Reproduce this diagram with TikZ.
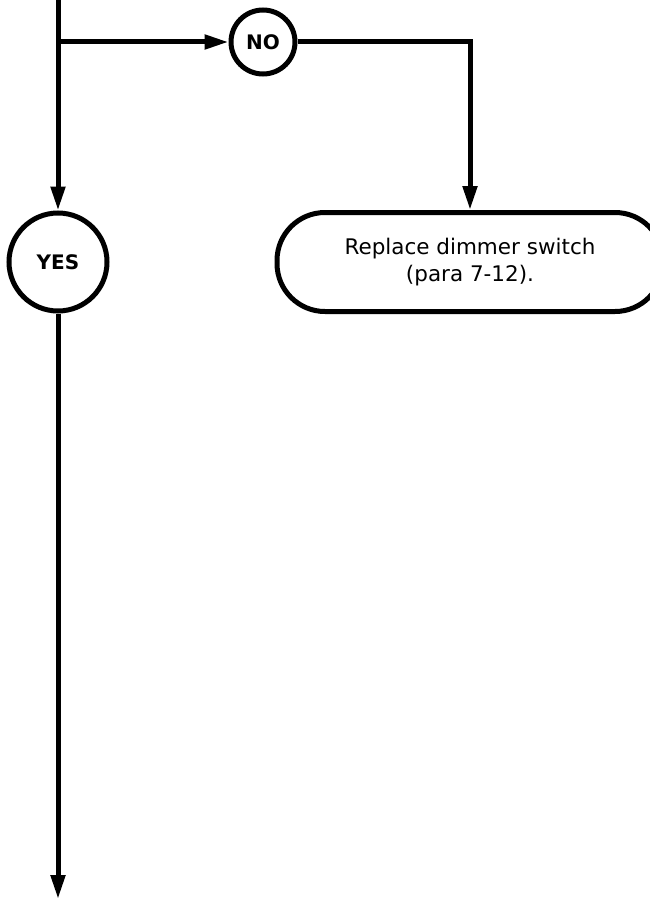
\documentclass[tikz,border=0pt]{standalone}
\usepackage{fontspec}
\setmainfont{DejaVu Sans}
\usetikzlibrary{positioning,arrows.meta}
\tikzset{
  dec/.style={circle, fill=white, draw=black, line width=5pt, inner sep=0pt, font=\bfseries\fontsize{20}{24}\selectfont},
  act/.style={rectangle, rounded corners=48pt, fill=white, draw=black, line width=5pt, align=center, minimum width=386pt, minimum height=99pt, font=\fontsize{21.5}{27}\selectfont},
  ln/.style={draw=black, line width=5pt},
  fl/.style={draw=black, line width=5pt, -{Triangle[length=24pt,width=14pt]}}
}
\begin{document}
\begin{tikzpicture}[x=1pt,y=-1pt]
  \useasboundingbox (0,0) rectangle (650,899);
  \coordinate (top) at (58,0);
  \coordinate (split) at (58,42);
  \coordinate (bend) at (470,42);
  \coordinate (bot) at (58,899);
  \node[dec, minimum size=64pt] (no) at (263,42) {NO};
  \node[dec, minimum size=98pt] (yes) at (58,262) {YES};
  \node[act] (fix) at (470,262) {Replace dimmer switch\\(para 7-12).};
  \draw[fl] (top) -- (yes);
  \draw[fl] (split) -- (no);
  \draw[fl] (no) -- (bend) -- (fix.north);
  \draw[fl] (yes) -- (bot);
\end{tikzpicture}
\end{document}
